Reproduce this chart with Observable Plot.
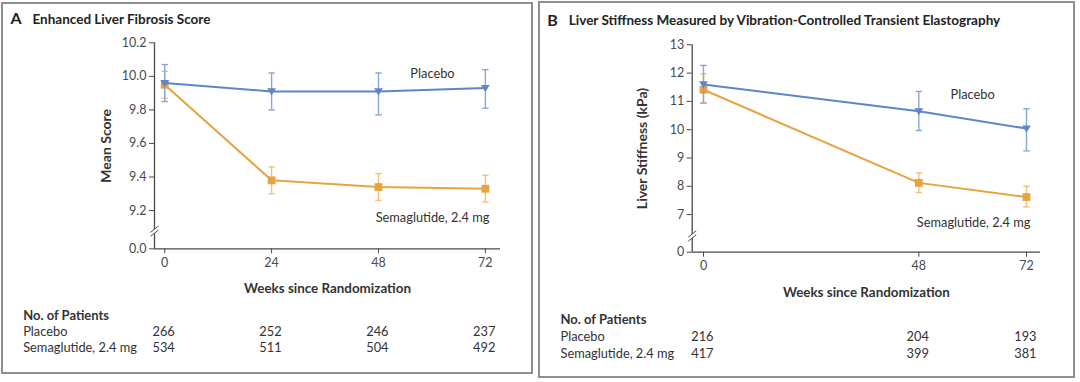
<!DOCTYPE html>
<html><head><meta charset="utf-8">
<script src="https://cdn.jsdelivr.net/npm/d3@7"></script>
<script src="https://cdn.jsdelivr.net/npm/@observablehq/plot@0.6"></script>
<style>
body{margin:0;background:#fff;width:1080px;height:382px;position:relative;overflow:hidden;font-family:Lato,sans-serif}
.panel{position:absolute;border:2px solid #8e8e8e;box-sizing:border-box;pointer-events:none}
#chartA{position:absolute;left:0;top:0}
#chartB{position:absolute;left:536px;top:0}
</style></head><body>
<div id="chartA"></div><div id="chartB"></div>
<div class="panel" style="left:1px;top:2px;width:532px;height:372px"></div>
<div class="panel" style="left:538px;top:1px;width:537px;height:377px"></div>
<script>
// ---------- Panel A: Enhanced Liver Fibrosis Score ----------
const weeksA = [0, 24, 48, 72];
const placeboA = [9.96, 9.91, 9.91, 9.93];
const placeboALo = [9.85, 9.80, 9.77, 9.81];
const placeboAHi = [10.07, 10.02, 10.02, 10.04];
const semaA = [9.95, 9.38, 9.34, 9.33];
const semaALo = [9.87, 9.30, 9.26, 9.25];
const semaAHi = [10.03, 9.46, 9.42, 9.41];
const nPlaceboA = [266, 252, 246, 237];
const nSemaA = [534, 511, 504, 492];
const yTicksA = [0, 9.2, 9.4, 9.6, 9.8, 10.0, 10.2];

// ---------- Panel B: Liver Stiffness (VCTE) ----------
const weeksB = [0, 48, 72];
const placeboB = [11.60, 10.65, 10.04];
const placeboBLo = [10.94, 9.97, 9.25];
const placeboBHi = [12.27, 11.35, 10.74];
const semaB = [11.41, 8.12, 7.62];
const semaBLo = [10.95, 7.78, 7.27];
const semaBHi = [11.97, 8.47, 8.00];
const nPlaceboB = [216, 204, 193];
const nSemaB = [417, 399, 381];
const yTicksB = [0, 7, 8, 9, 10, 11, 12, 13];

const seriesNames = ["Placebo", "Semaglutide, 2.4 mg"];
const BLUE = "#5f84c8", BLUE_L = "#8aa6d9";
const ORANGE = "#e6a33e", ORANGE_L = "#efc27f";
const AXIS = "#4a4a4a", TEXT = "#333";

const triDown = {draw(ctx, size) { const r = Math.sqrt(size / Math.PI);
  ctx.moveTo(-r, -r * 0.7); ctx.lineTo(r, -r * 0.7); ctx.lineTo(0, r * 0.9); ctx.closePath(); }};
const capSym = {draw(ctx, size) { const r = Math.sqrt(size / Math.PI);
  ctx.moveTo(-r, 0); ctx.lineTo(r, 0); }};
const breakFill = {draw(ctx, size) { const r = Math.sqrt(size / Math.PI);
  ctx.moveTo(-r, 0); ctx.lineTo(r, -r * 1.6); ctx.lineTo(r, -r * 0.6); ctx.lineTo(-r, r); ctx.closePath(); }};
const breakLines = {draw(ctx, size) { const r = Math.sqrt(size / Math.PI);
  ctx.moveTo(-r, 0); ctx.lineTo(r, -r * 1.6); ctx.moveTo(-r, r); ctx.lineTo(r, -r * 0.6); }};

function panel(o) {
  // broken axis: values below the break are compressed into a short segment
  const brk = o.brk, gap = o.gap;
  const yT = v => v >= brk ? v : brk - (brk - v) / brk * gap;
  const rows = (v, lo, hi) => o.weeks.map((w, i) => ({week: w, value: yT(v[i]), lo: yT(lo[i]), hi: yT(hi[i])}));
  const pl = rows(o.pl, o.plLo, o.plHi);
  const se = rows(o.se, o.seLo, o.seHi);
  const yMax = o.yTicks[o.yTicks.length - 1];
  const tickLabel = new Map(o.yTicks.map(t => [yT(t), o.yFmt(t)]));
  const series = (data, col, colL, sym, r) => [
    Plot.ruleX(data, {x: "week", y1: "lo", y2: "hi", stroke: colL, strokeWidth: 1.4}),
    Plot.dot(data, {x: "week", y: "lo", symbol: capSym, r: 3.2, stroke: colL, strokeWidth: 1.4, fill: "none"}),
    Plot.dot(data, {x: "week", y: "hi", symbol: capSym, r: 3.2, stroke: colL, strokeWidth: 1.4, fill: "none"}),
    Plot.line(data, {x: "week", y: "value", stroke: col, strokeWidth: 2}),
    Plot.dot(data, {x: "week", y: "value", symbol: sym, r, fill: col, stroke: "none"})
  ];
  const T = (t, opts) => Plot.text([t], {lineAnchor: "middle", fill: TEXT, ...opts});
  return Plot.plot({
    width: o.width, height: 382,
    marginLeft: o.mL, marginRight: o.mR, marginTop: o.mT, marginBottom: o.mB,
    style: {fontFamily: "Lato, sans-serif", fontSize: "12.5px", color: TEXT, background: "transparent"},
    x: {domain: o.xDomain, label: null},
    y: {domain: [yT(0), yMax], label: null},
    marks: [
      Plot.ruleX([o.xDomain[0]], {y1: yT(0), y2: yMax, stroke: AXIS, strokeWidth: 1.3}),
      Plot.ruleY([yT(0)], {x1: o.xDomain[0], x2: o.xDomain[1], stroke: AXIS, strokeWidth: 1.3}),
      Plot.dot([brk], {x: o.xDomain[0], y: d => d, symbol: breakFill, r: 4, fill: "white", stroke: "none"}),
      Plot.dot([brk], {x: o.xDomain[0], y: d => d, symbol: breakLines, r: 4, fill: "none", stroke: AXIS, strokeWidth: 1}),
      Plot.axisY({ticks: o.yTicks.map(yT), tickFormat: v => tickLabel.get(v), tickSize: 5, tickPadding: 3, color: AXIS, label: null, fontSize: 12.5}),
      Plot.axisX({ticks: o.weeks, tickSize: 5, tickPadding: 4, color: AXIS, label: null, fontSize: 12.5}),
      ...series(se, ORANGE, ORANGE_L, "square", 4.4),
      ...series(pl, BLUE, BLUE_L, triDown, 4.4),
      // series labels, anchored to the last point of each series
      Plot.text([pl[pl.length - 1]], {x: "week", y: "value", text: () => seriesNames[0], textAnchor: "start", dx: o.plLab[0], dy: o.plLab[1], fill: TEXT, fontSize: 12.8}),
      Plot.text([se[se.length - 1]], {x: "week", y: "value", text: () => seriesNames[1], textAnchor: "end", dx: o.seLab[0], dy: o.seLab[1], fill: TEXT, fontSize: 12.8}),
      // axis titles
      T("Weeks since Randomization", {frameAnchor: "bottom", textAnchor: "middle", dy: o.xLabDy, fontWeight: "bold", fontSize: 13.4}),
      T(o.ylabel, {frameAnchor: "left", textAnchor: "middle", dx: o.yLabDx, rotate: -90, fontWeight: "bold", fontSize: 14}),
      // panel titles
      T(o.letter, {frameAnchor: "top-left", dx: o.letterDx, dy: o.titleDy, textAnchor: "start", fontWeight: "bold", fontSize: 16, fill: "#222"}),
      T(o.title, {frameAnchor: "top-left", dx: o.titleDx, dy: o.titleDy, textAnchor: "start", fontWeight: "bold", fontSize: 13.5, fill: "#222"}),
      // number of patients table
      T("No. of Patients", {frameAnchor: "bottom-left", dx: o.tabDx, dy: o.tabDy[0], textAnchor: "start", fontWeight: "bold", fontSize: 13}),
      T(seriesNames[0], {frameAnchor: "bottom-left", dx: o.tabDx, dy: o.tabDy[1], textAnchor: "start", fontSize: 12.8}),
      T(seriesNames[1], {frameAnchor: "bottom-left", dx: o.tabDx, dy: o.tabDy[2], textAnchor: "start", fontSize: 12.8}),
      Plot.text(o.weeks, {x: d => d, text: (d, i) => String(o.nPl[i]), frameAnchor: "bottom", lineAnchor: "middle", textAnchor: "end", dx: 10, dy: o.tabDy[1], fontSize: 12.8, fill: TEXT}),
      Plot.text(o.weeks, {x: d => d, text: (d, i) => String(o.nSe[i]), frameAnchor: "bottom", lineAnchor: "middle", textAnchor: "end", dx: 10, dy: o.tabDy[2], fontSize: 12.8, fill: TEXT})
    ]
  });
}

document.getElementById("chartA").append(panel({
  weeks: weeksA, pl: placeboA, plLo: placeboALo, plHi: placeboAHi,
  se: semaA, seLo: semaALo, seHi: semaAHi, nPl: nPlaceboA, nSe: nSemaA,
  width: 536, mL: 154, mR: 36, mT: 42.3, mB: 382 - 248.3, xDomain: [-2.3, 75.4],
  brk: 9.07, gap: 0.098, yTicks: yTicksA, yFmt: d3.format(".1f"),
  ylabel: "Mean Score", letter: "A", title: "Enhanced Liver Fibrosis Score",
  plLab: [-75, -14], seLab: [4, 29], xLabDy: 40, yLabDx: -48,
  letterDx: -144, titleDx: -122, titleDy: -23.5,
  tabDx: -131.3, tabDy: [66.7, 83.4, 99]
}));

document.getElementById("chartB").append(panel({
  weeks: weeksB, pl: placeboB, plLo: placeboBLo, plHi: placeboBHi,
  se: semaB, seLo: semaBLo, seHi: semaBHi, nPl: nPlaceboB, nSe: nSemaB,
  width: 544, mL: 155.7, mR: 40, mT: 44.3, mB: 382 - 251.7, xDomain: [-2.52, 75.12],
  brk: 6.2, gap: 0.53, yTicks: yTicksB, yFmt: d3.format("d"),
  ylabel: "Liver Stiffness (kPa)", letter: "B", title: "Liver Stiffness Measured by Vibration-Controlled Transient Elastography",
  plLab: [-76, -34], seLab: [4, 26], xLabDy: 41, yLabDx: -50,
  letterDx: -145, titleDx: -123.4, titleDy: -24.3,
  tabDx: -131.7, tabDy: [67.6, 85, 101.6]
}));
</script>
</body></html>
